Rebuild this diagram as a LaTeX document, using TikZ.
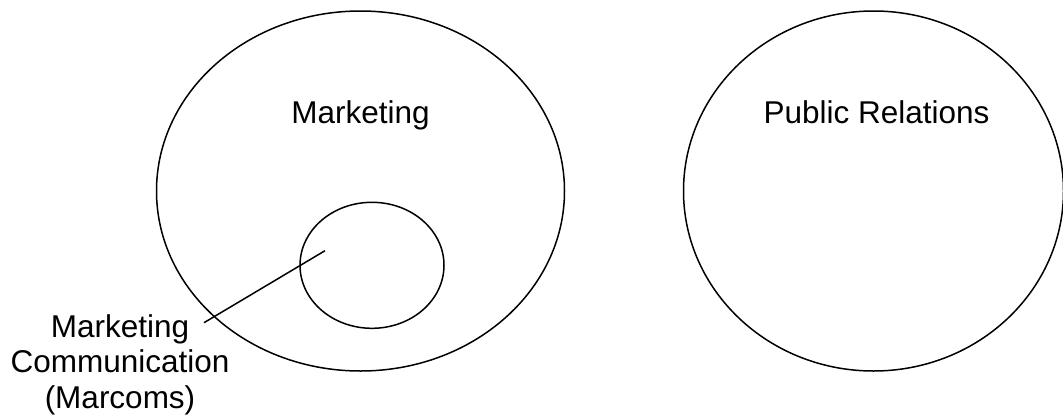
\documentclass[tikz,border=0pt]{standalone}
\usepackage{fontspec}
\setmainfont{Liberation Sans}
\usetikzlibrary{shapes.geometric}
\begin{document}
\begin{tikzpicture}[x=1pt,y=-1pt,
  ring/.style={draw=black, line width=1.5pt, ellipse, inner sep=0pt},
  lbl/.style={font=\fontsize{31.5}{35.5}\selectfont, inner sep=0pt, anchor=base},
  link/.style={draw=black, line width=1.5pt}]
\useasboundingbox (0,0) rectangle (1063,416);
\clip (0,0) rectangle (1063,416);
\node[ring, minimum width=408pt, minimum height=360pt] (mkt) at (360.5,191) {};
\node[ring, minimum width=380pt, minimum height=360pt] (pr) at (873.5,191) {};
\node[ring, minimum width=144pt, minimum height=126pt] (mc) at (372,265.3) {};
\node[lbl] (tmkt) at (360.5,123.3) {Marketing};
\node[lbl] (tpr) at (876.5,123.3) {Public Relations};
\node[lbl, align=center] (tmc) at (120,408.3) {Marketing\\Communication\\(Marcoms)};
\coordinate (tip) at (325,250.7);
\coordinate (lend) at (204,322.7);
\draw[link] (lend) -- (tip);
\end{tikzpicture}
\end{document}
